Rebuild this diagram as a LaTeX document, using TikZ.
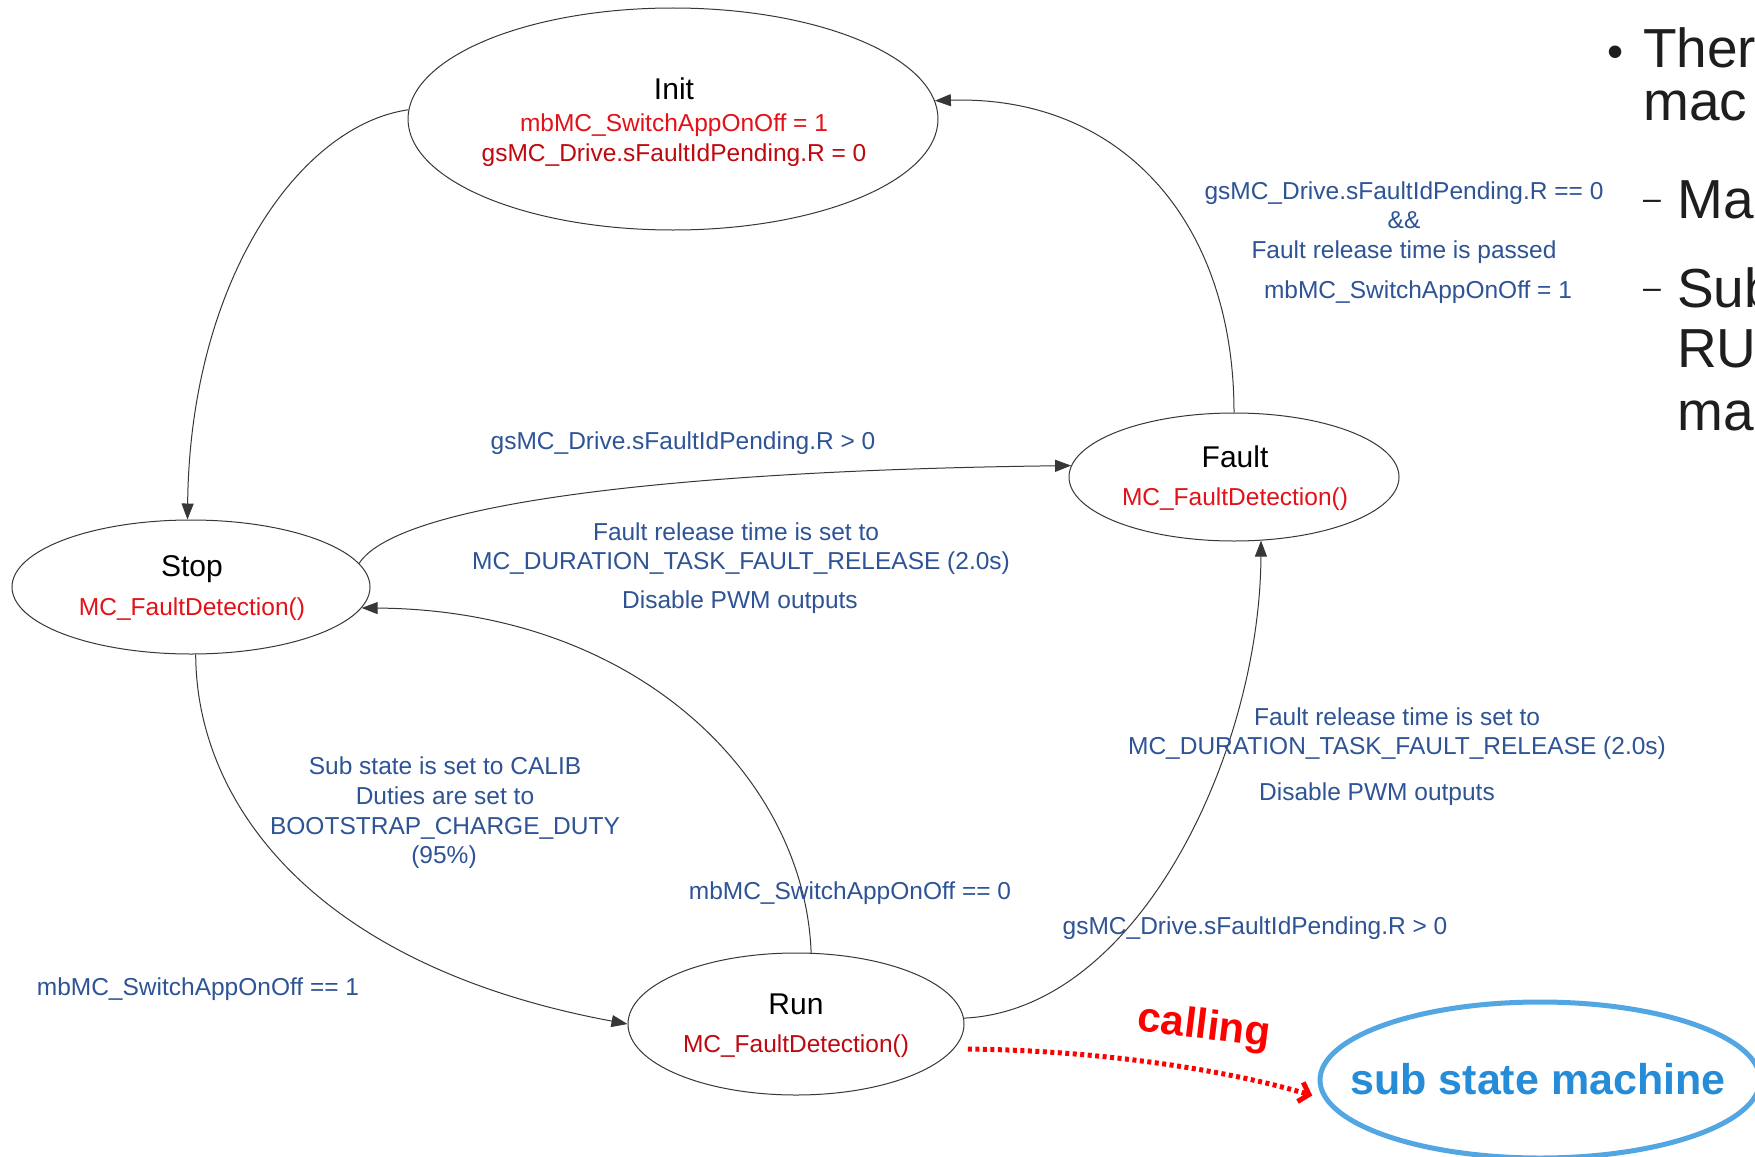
\documentclass[tikz,border=0pt]{standalone}
\usepackage{fontspec}
\setmainfont{Liberation Sans}
\usetikzlibrary{arrows.meta,shapes.geometric}

\definecolor{lblblue}{RGB}{46,84,150}
\definecolor{fnred}{RGB}{226,18,24}
\definecolor{fndark}{RGB}{192,8,16}
\definecolor{subblue}{RGB}{82,166,226}
\definecolor{subtext}{RGB}{38,140,215}
\definecolor{edgegray}{RGB}{55,55,55}
\definecolor{slidetext}{RGB}{30,30,30}

\tikzset{
  state/.style={ellipse, draw=edgegray, line width=1pt, inner sep=0pt},
  sname/.style={font=\fontsize{30}{36}\selectfont, anchor=base, inner sep=0pt},
  fn/.style={text=fnred, font=\fontsize{24.5}{29}\selectfont, anchor=base, inner sep=0pt},
  lbl/.style={text=lblblue, font=\fontsize{24.5}{29}\selectfont, anchor=base, inner sep=0pt},
  conn/.style={draw=edgegray, line width=1pt, -{Triangle[length=16pt,width=12pt]}},
  callarrow/.style={draw=red, line width=5pt, dash pattern=on 4pt off 3.5pt,
    -{Straight Barb[length=9pt,width=20pt]}, shorten <=14pt, shorten >=12pt},
  slide/.style={text=slidetext, font=\fontsize{55}{66}\selectfont, anchor=base west, inner sep=0pt},
  slidedash/.style={text=slidetext, font=\fontsize{32}{38}\selectfont, anchor=base west, inner sep=0pt}
}

\begin{document}
\begin{tikzpicture}[x=1pt,y=-1pt]
  \useasboundingbox (0,0) rectangle (1755,1156);
  \fill[white] (0,0) rectangle (1755,1156);
  \clip (0,0) rectangle (1755,1156);

  % states
  \node[state, minimum width=530pt, minimum height=222pt] (init) at (673,119) {};
  \node[state, minimum width=358pt, minimum height=134pt] (stop) at (191,587) {};
  \node[state, minimum width=330pt, minimum height=128pt] (fault) at (1234,477) {};
  \node[state, minimum width=336pt, minimum height=142pt] (run) at (796,1024) {};

  % state contents
  \node[sname] (initname) at (674,99) {Init};
  \node[fn] (initon) at (674,131) {mbMC\_SwitchAppOnOff = 1};
  \node[fn, text=fndark] (initpend) at (674,161) {gsMC\_Drive.sFaultIdPending.R = 0};

  \node[sname] (stopname) at (192,576) {Stop};
  \node[fn] (stopfn) at (192,615) {MC\_FaultDetection()};

  \node[sname] (faultname) at (1235,467) {Fault};
  \node[fn] (faultfn) at (1235,505) {MC\_FaultDetection()};

  \node[sname] (runname) at (796,1014) {Run};
  \node[fn, text=fndark] (runfn) at (796,1052) {MC\_FaultDetection()};

  % transitions
  \draw[conn] (init.178) .. controls (300,125) and (190,280) .. (stop.93);
  \draw[conn] (stop.8) .. controls (400,500) and (700,470) .. (fault.176);
  \draw[conn] (run.78) .. controls (805,780) and (640,610) .. (stop.-7);
  \draw[conn] (stop.-86) .. controls (196,800) and (310,965) .. (run.180);
  \draw[conn] (run.2) .. controls (1140,1010) and (1260,750) .. (fault.-67);
  \draw[conn] (fault.90) .. controls (1234,220) and (1120,95) .. (init.4);

  % transition labels
  \node[lbl] (sfcond) at (683,449) {gsMC\_Drive.sFaultIdPending.R > 0};
  \node[lbl] (sfact1) at (736,540) {Fault release time is set to};
  \node[lbl] (sfact2) at (741,569) {MC\_DURATION\_TASK\_FAULT\_RELEASE (2.0s)};
  \node[lbl] (sfact3) at (740,608) {Disable PWM outputs};

  \node[lbl] (sract1) at (445,774) {Sub state is set to CALIB};
  \node[lbl] (sract2) at (445,804) {Duties are set to};
  \node[lbl] (sract3) at (445,834) {BOOTSTRAP\_CHARGE\_DUTY};
  \node[lbl] (sract4) at (444,863) {(95\%)};
  \node[lbl] (srcond) at (198,995) {mbMC\_SwitchAppOnOff == 1};

  \node[lbl] (rscond) at (850,899) {mbMC\_SwitchAppOnOff == 0};

  \node[lbl] (rfcond) at (1255,934) {gsMC\_Drive.sFaultIdPending.R > 0};
  \node[lbl] (rfact1) at (1397,725) {Fault release time is set to};
  \node[lbl] (rfact2) at (1397,754) {MC\_DURATION\_TASK\_FAULT\_RELEASE (2.0s)};
  \node[lbl] (rfact3) at (1377,800) {Disable PWM outputs};

  \node[lbl] (ficond1) at (1404,199) {gsMC\_Drive.sFaultIdPending.R == 0};
  \node[lbl] (ficond2) at (1404,228) {\&\&};
  \node[lbl] (ficond3) at (1404,258) {Fault release time is passed};
  \node[lbl] (fiact) at (1418,298) {mbMC\_SwitchAppOnOff = 1};

  % sub state machine call
  \node[ellipse, draw=subblue, line width=5pt, inner sep=0pt,
        minimum width=440pt, minimum height=156pt] (sub) at (1540,1080) {};
  \node[text=subtext, font=\bfseries\fontsize{43}{50}\selectfont, anchor=base, inner sep=0pt]
        (subname) at (1538,1094) {sub state machine};
  \node[text=red, font=\bfseries\fontsize{42}{50}\selectfont, rotate=-7, inner sep=0pt]
        (callword) at (1204,1028) {calling};
  \draw[callarrow] (run.-9) .. controls (1090,1050) and (1220,1068) .. (sub.185);

  % slide text on the right
  \node[text=slidetext, font=\fontsize{46}{54}\selectfont, anchor=base, inner sep=0pt] (bul) at (1616,67) {•};
  \node[slide] (t1) at (1643,67) {Ther};
  \node[slide] (t2) at (1643,120) {mac};
  \node[slidedash] (d1) at (1643,209) {–};
  \node[slide] (t3) at (1677,218) {Ma};
  \node[slidedash] (d2) at (1643,298) {–};
  \node[slide] (t4) at (1677,307) {Sub};
  \node[slide] (t5) at (1677,367) {RU};
  \node[slide] (t6) at (1677,430) {mac};
\end{tikzpicture}
\end{document}
